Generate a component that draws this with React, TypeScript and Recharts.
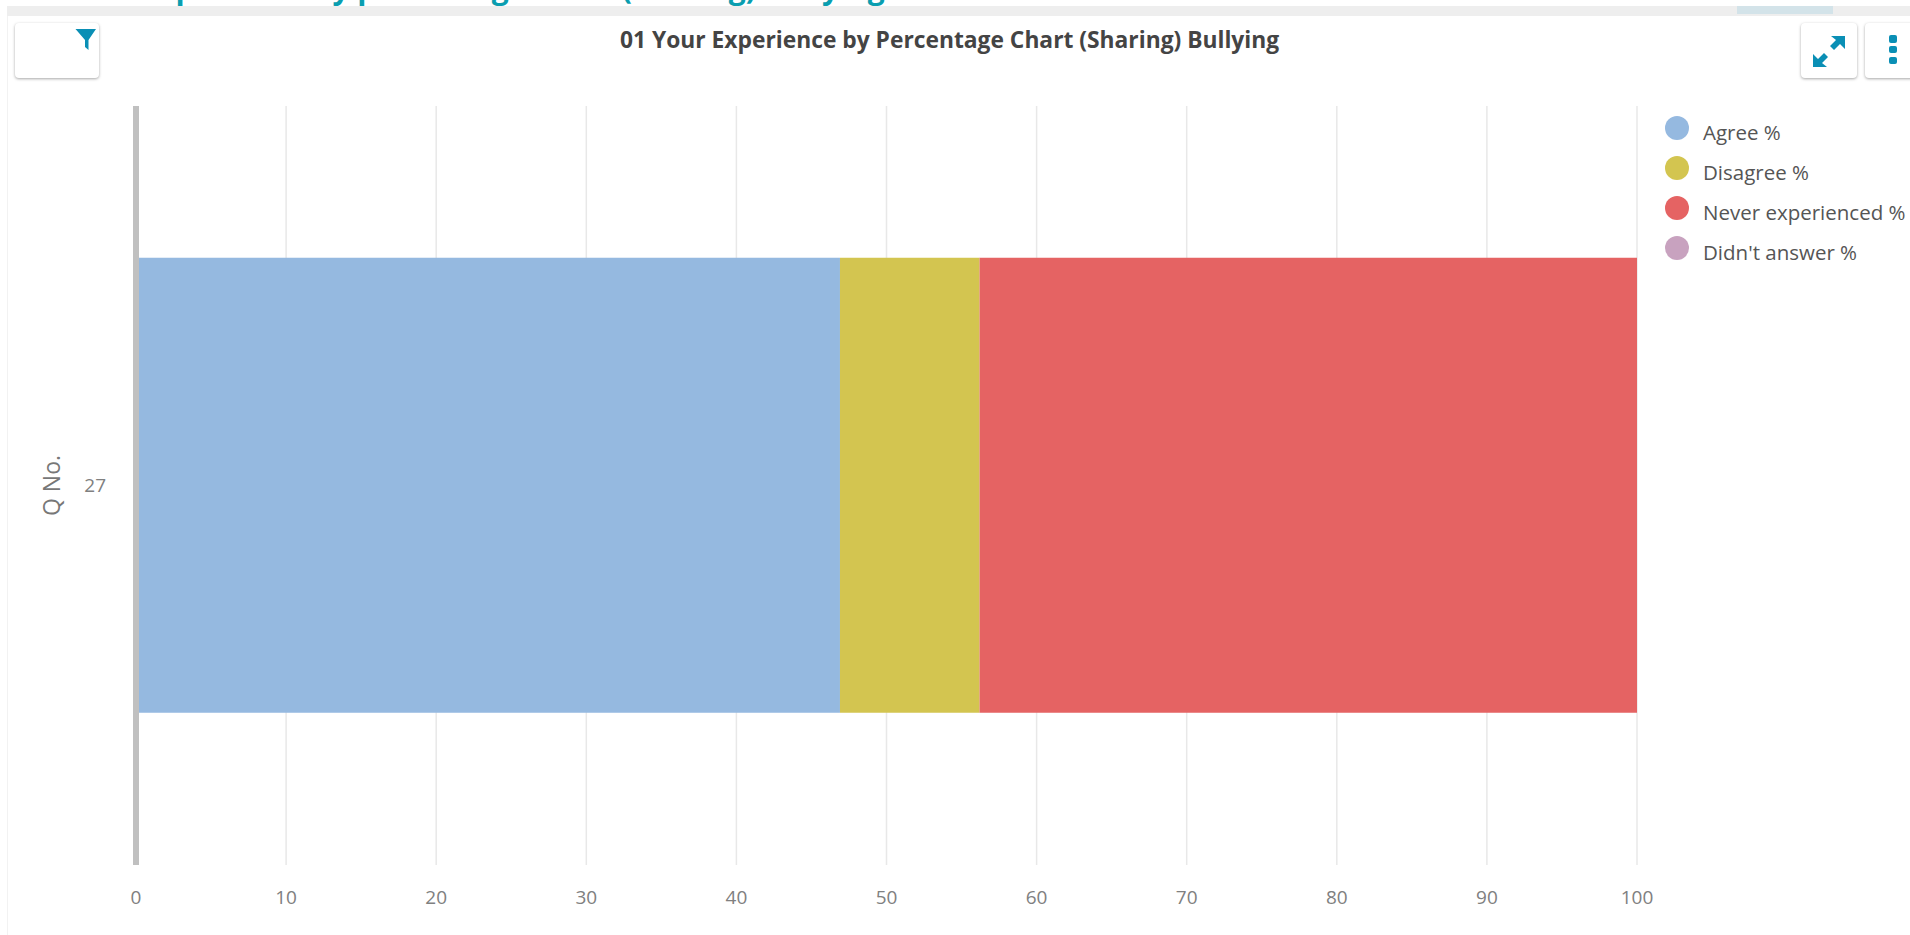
import React from "react";
import { BarChart, Bar, XAxis, YAxis, CartesianGrid, Legend } from "recharts";

const questions = ["27"];
const seriesNames = ["Agree %", "Disagree %", "Never experienced %", "Didn't answer %"];
const seriesColors = ["#95b9e0", "#d3c550", "#e56363", "#c8a2bf"];
const agree = [46.9];
const disagree = [9.3];
const never = [43.8];
const noAnswer = [0];
const xTicks = [0, 10, 20, 30, 40, 50, 60, 70, 80, 90, 100];
const title = "01 Your Experience by Percentage Chart (Sharing) Bullying";
const pageHeading = "Your Experience by percentage chart (Sharing) Bullying";

const rows = questions.map((q, i) => ({
  q,
  [seriesNames[0]]: agree[i],
  [seriesNames[1]]: disagree[i],
  [seriesNames[2]]: never[i],
  [seriesNames[3]]: noAnswer[i],
}));

const FONT = "'Open Sans', sans-serif";

const LegendList = () => (
  <div style={{ fontFamily: FONT }}>
    {seriesNames.map((n, i) => (
      <div key={n} style={{ height: 40, position: "relative", whiteSpace: "nowrap" }}>
        <span style={{ position: "absolute", left: 0, top: 0, width: 24, height: 24, borderRadius: 12, background: seriesColors[i] }} />
        <span style={{ position: "absolute", left: 38, top: 4, fontSize: 20.5, lineHeight: "24px", color: "#555" }}>{n}</span>
      </div>
    ))}
  </div>
);

const btn: React.CSSProperties = {
  position: "absolute", top: 23, height: 55, background: "#fff", borderRadius: 4,
  boxShadow: "0 1px 3px rgba(0,0,0,0.35)",
};

export default function App() {
  return (
    <div style={{ position: "absolute", left: 0, top: 0, width: 1910, height: 935, background: "#fff", overflow: "hidden" }}>
      <div style={{ position: "absolute", left: 7, top: 6, width: 1903, height: 10, background: "#eeeeee" }} />
      <div style={{ position: "absolute", left: 1737, top: 6, width: 96, height: 8, background: "#d3e3e9" }} />
      <div style={{ position: "absolute", left: 7, top: 16, width: 1, height: 919, background: "#f2f2f2" }} />
      <div style={{ position: "absolute", left: 0, top: 0, width: 1910, height: 6, overflow: "hidden" }}>
        <div style={{ position: "absolute", left: 63, top: -27, fontFamily: FONT, fontWeight: 700, fontSize: 30, lineHeight: "30px", color: "#0a9eb0", whiteSpace: "nowrap" }}>
          {pageHeading}
        </div>
      </div>
      <div style={{ ...btn, left: 15, width: 84 }}>
        <svg width="84" height="55" style={{ position: "absolute", left: 0, top: 0 }}>
          <path d="M60.5 6 H81 L73.5 17 V27 L70 24 V17 Z" fill="#0a8fb5" />
        </svg>
      </div>
      <div style={{ ...btn, left: 1801, width: 56 }}>
        <svg width="56" height="55" style={{ position: "absolute", left: 0, top: 0 }}>
          <path d="M12 44 L12 31 L17 36 L23 30 L27 34 L21 40 L26 44 Z M44 13 L44 26 L39 21 L33 27 L29 23 L35 17 L30 13 Z" fill="#0a8fb5" />
        </svg>
      </div>
      <div style={{ ...btn, left: 1865, width: 60 }}>
        <svg width="56" height="55" style={{ position: "absolute", left: 0, top: 0 }}>
          <rect x="24" y="12" width="8" height="8" rx="2" fill="#0a8fb5" />
          <rect x="24" y="23" width="8" height="7" rx="2" fill="#0a8fb5" />
          <rect x="24" y="34" width="8" height="7" rx="2" fill="#0a8fb5" />
        </svg>
      </div>
      <div style={{ position: "absolute", left: 620, top: 24, width: 660, fontFamily: FONT, fontWeight: 700, fontSize: 22.8, lineHeight: "32px", color: "#444", whiteSpace: "nowrap" }}>
        {title}
      </div>
      <div style={{ position: "absolute", left: 0, top: 0 }}>
        <BarChart
          width={1910}
          height={935}
          data={rows}
          layout="vertical"
          barCategoryGap="20%"
          margin={{ top: 106, left: 0, right: 33, bottom: 0 }}
        >
          <CartesianGrid horizontal={false} stroke="#e8e8e8" strokeWidth={1.5} />
          <XAxis
            type="number"
            domain={[0, 100]}
            ticks={xTicks}
            tickLine={false}
            axisLine={false}
            height={70}
            tickMargin={20}
            tick={{ fill: "#808080", fontSize: 19, fontFamily: FONT }}
          />
          <YAxis
            type="category"
            dataKey="q"
            width={136}
            tickLine={false}
            axisLine={{ stroke: "#c0c0c0", strokeWidth: 6 }}
            tickMargin={24}
            tick={{ fill: "#808080", fontSize: 19, fontFamily: FONT }}
            label={{ value: "Q No.", angle: -90, position: "insideLeft", offset: 52, style: { fill: "#777", fontSize: 23, fontFamily: FONT, textAnchor: "middle" } }}
          />
          <Legend layout="vertical" align="right" verticalAlign="top" content={<LegendList />} wrapperStyle={{ position: "absolute", left: 1665, top: 116, width: 240 }} />
          {seriesNames.map((n, i) => (
            <Bar key={n} dataKey={n} stackId="a" fill={seriesColors[i]} isAnimationActive={false} />
          ))}
        </BarChart>
      </div>
    </div>
  );
}
